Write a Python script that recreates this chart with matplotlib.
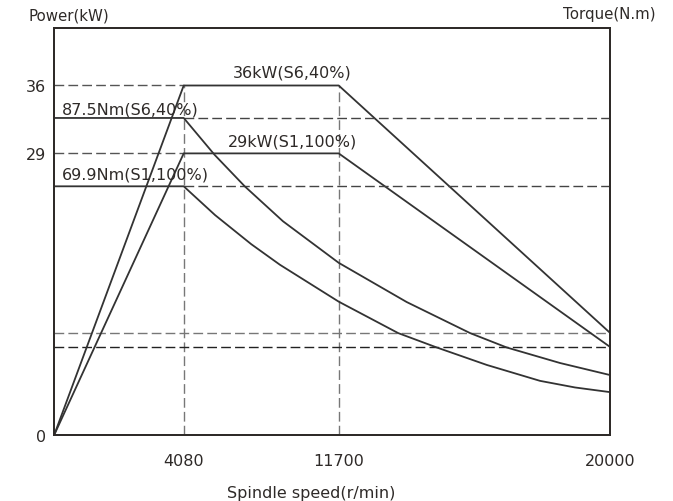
import numpy as np
import matplotlib
matplotlib.use("Agg")
import matplotlib.pyplot as plt

# spindle speed (r/min) and power (kW)
speed_power = [0, 4080, 11700, 20000]
power_s6 = [0, 36, 36, 10.5]
power_s1 = [0, 29, 29, 9.05]

# torque curves (N.m)
speed_t6 = [0, 4080, 5600, 7080, 8960, 11700, 13780, 15720, 16840, 18470, 20000]
torque_s6 = [87.5, 87.5, 78.0, 69.9, 60.9, 50.2, 40.1, 32.1, 28.4, 24.4, 21.3]
speed_t1 = [0, 4080, 5620, 7400, 8810, 11700, 13520, 14700, 16230, 17860, 18930, 20000]
torque_s1 = [69.9, 69.9, 62.5, 55.0, 49.7, 40.2, 32.1, 28.4, 23.9, 19.8, 18.1, 16.9]

xticks = [4080, 11700, 20000]
yticks = [0, 29, 36]

# the speed axis is drawn piecewise, not to scale
speed_breaks = [-20000, 0, 4080, 11700, 20000, 40000]
axis_breaks = [-258.8, 0, 129.4, 284.4, 555.7, 1209.5]

def fwd(x):
    return np.interp(x, speed_breaks, axis_breaks)

def inv(x):
    return np.interp(x, axis_breaks, speed_breaks)

plt.rcParams['font.family'] = ['DejaVu Sans']
ink = '#2e2a28'
solid = dict(color='#333333', lw=1.3)
dash = dict(lw=1.0, dashes=(7, 3))

fig = plt.figure(figsize=(6.73, 5.02), dpi=100)
ax = fig.add_axes([0.0807, 0.1321, 0.8257, 0.8096])
ax.set_xscale('function', functions=(fwd, inv))
ax.set_xlim(0, 20000)
ax.set_ylim(0, 41.9)

ax2 = ax.twinx()
ax2.set_ylim(5.94, 110.6)
ax2.set_yticks([])

# guide lines
ax.plot([0, 4080], [36, 36], color='#555555', **dash)
ax.plot([0, 4080], [29, 29], color='#555555', **dash)
ax.plot([4080, 4080], [0, 36], color='#777777', **dash)
ax.plot([11700, 11700], [0, 36], color='#777777', **dash)
ax.axhline(power_s6[-1], color='#777777', **dash)
ax.axhline(power_s1[-1], color='#222222', **dash)
ax2.plot([4080, 20000], [87.5, 87.5], color='#444444', **dash)
ax2.plot([4080, 20000], [69.9, 69.9], color='#444444', **dash)

# curves
ax.plot(speed_power, power_s6, **solid)
ax.plot(speed_power, power_s1, **solid)
ax2.plot(speed_t6, torque_s6, **solid)
ax2.plot(speed_t1, torque_s1, **solid)

ax.text(0.3 * 4080 + 0.7 * 11700, 36.97, '36kW(S6,40%)', ha='center', va='baseline',
        fontsize=11.5, color=ink)
ax.text(0.3 * 4080 + 0.7 * 11700, 29.81, '29kW(S1,100%)', ha='center', va='baseline',
        fontsize=11.5, color=ink)
ax2.text(230, 88.7, '87.5Nm(S6,40%)', ha='left', va='baseline', fontsize=11.5, color=ink)
ax2.text(230, 71.8, '69.9Nm(S1,100%)', ha='left', va='baseline', fontsize=11.5, color=ink)

ax.set_xticks(xticks)
ax.set_xticklabels([str(v) for v in xticks])
ax.set_yticks(yticks)
ax.set_yticklabels([str(v) for v in yticks])
ax.tick_params(axis='both', length=0, labelsize=11.5, colors=ink)
ax.tick_params(axis='x', pad=13)
ax.tick_params(axis='y', pad=6)
ax.minorticks_off()

for a in (ax, ax2):
    for s in a.spines.values():
        s.set_color(ink)
        s.set_linewidth(1.3)

fig.text(68.8 / 673, 1 - 16 / 502, 'Power(kW)', ha='center', va='center',
         fontsize=10.8, color=ink)
fig.text(609.2 / 673, 1 - 14.5 / 502, 'Torque(N.m)', ha='center', va='center',
         fontsize=10.8, color=ink)
fig.text(311 / 673, 1 - 493.3 / 502, 'Spindle speed(r/min)', ha='center', va='center',
         fontsize=11.5, color=ink)

fig.savefig('out.png', dpi=100)
